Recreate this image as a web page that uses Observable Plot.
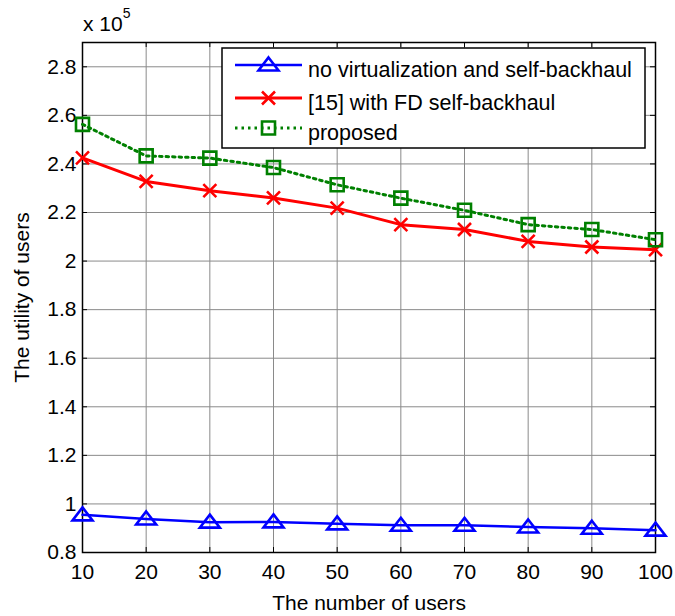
<!DOCTYPE html>
<html>
<head>
<meta charset="utf-8">
<script src="https://cdn.jsdelivr.net/npm/d3@7"></script>
<script src="https://cdn.jsdelivr.net/npm/@observablehq/plot@0.6"></script>
<style>
  html, body { margin: 0; padding: 0; background: white; }
  #chart { position: relative; width: 675px; height: 616px; }
  svg { font-family: "Liberation Sans", Arial, sans-serif; }
</style>
</head>
<body>
<div id="chart"></div>
<script>
// ---- data (values in units of 10^5) ----
const users = [10, 20, 30, 40, 50, 60, 70, 80, 90, 100];
const noVirtualization = [0.955, 0.938, 0.925, 0.926, 0.918, 0.912, 0.912, 0.905, 0.900, 0.892];
const fdSelfBackhaul = [2.425, 2.328, 2.290, 2.260, 2.218, 2.150, 2.130, 2.081, 2.058, 2.047];
const proposed = [2.563, 2.433, 2.424, 2.385, 2.314, 2.259, 2.209, 2.150, 2.130, 2.088];
const seriesNames = ["no virtualization and self-backhaul", "[15] with FD self-backhaul", "proposed"];
const xTicks = [10, 20, 30, 40, 50, 60, 70, 80, 90, 100];
const yTicks = [0.8, 1.0, 1.2, 1.4, 1.6, 1.8, 2.0, 2.2, 2.4, 2.6, 2.8];
const xLabel = "The number of users";
const yLabel = "The utility of users";
const exponentLabel = "5";

// ---- layout ----
const W = 675, H = 616;
const mL = 82, mR = 20, mT = 42, mB = 64;
const xDomain = [10, 100], yDomain = [0.8, 2.9];
const plotW = W - mL - mR, plotH = H - mT - mB;
const tickPx = 5;
const tickYLen = (yDomain[1] - yDomain[0]) * tickPx / plotH;
const tickXLen = (xDomain[1] - xDomain[0]) * tickPx / plotW;
const FS = 21;

// custom marker symbols (fixed pixel size, like MATLAB markers)
const triSym = {draw(ctx) { ctx.moveTo(0, -7.5); ctx.lineTo(10, 5.5); ctx.lineTo(-10, 5.5); ctx.closePath(); }};
const timesSym = {draw(ctx) { const a = 6.5; ctx.moveTo(-a, -a); ctx.lineTo(a, a); ctx.moveTo(-a, a); ctx.lineTo(a, -a); }};
const squareSym = {draw(ctx) { const a = 6.5; ctx.moveTo(-a, -a); ctx.lineTo(a, -a); ctx.lineTo(a, a); ctx.lineTo(-a, a); ctx.closePath(); }};

const series = [
  {name: seriesNames[0], values: noVirtualization, color: "#0000ff", symbol: triSym, dash: null, sw: 2.5},
  {name: seriesNames[1], values: fdSelfBackhaul, color: "#ff0000", symbol: timesSym, dash: null, sw: 3},
  {name: seriesNames[2], values: proposed, color: "#008000", symbol: squareSym, dash: "2.5,4", sw: 3}
];
const rows = series.map(s => users.map((u, i) => ({x: u, y: s.values[i]})));

const marks = [
  Plot.gridX(xTicks, {stroke: "#8a8a8a", strokeOpacity: 1, strokeWidth: 1}),
  Plot.gridY(yTicks, {stroke: "#8a8a8a", strokeOpacity: 1, strokeWidth: 1}),
  Plot.axisX(xTicks, {tickSize: 0, tickPadding: 12, fontSize: FS, label: xLabel, labelAnchor: "center", labelOffset: 57, labelArrow: "none"}),
  Plot.axisY(yTicks, {tickSize: 0, tickPadding: 6, fontSize: FS, tickFormat: d3.format("~g"), label: yLabel, labelAnchor: "center", labelOffset: 68, labelArrow: "none"}),
  // inward ticks on all four sides
  Plot.ruleX(xTicks, {x: d => d, y1: yDomain[0], y2: yDomain[0] + tickYLen, stroke: "black", strokeWidth: 1}),
  Plot.ruleX(xTicks, {x: d => d, y1: yDomain[1], y2: yDomain[1] - tickYLen, stroke: "black", strokeWidth: 1}),
  Plot.ruleY(yTicks, {y: d => d, x1: xDomain[0], x2: xDomain[0] + tickXLen, stroke: "black", strokeWidth: 1}),
  Plot.ruleY(yTicks, {y: d => d, x1: xDomain[1], x2: xDomain[1] - tickXLen, stroke: "black", strokeWidth: 1}),
  Plot.frame({stroke: "black", strokeWidth: 1.5})
];
series.forEach((s, k) => {
  marks.push(Plot.line(rows[k], {x: "x", y: "y", stroke: s.color, strokeWidth: s.sw, strokeDasharray: s.dash}));
  marks.push(Plot.dot(rows[k], {x: "x", y: "y", symbol: () => s.symbol, r: 5, stroke: s.color, strokeWidth: 2.6, fill: "none"}));
});

const chart = Plot.plot({
  width: W, height: H,
  marginLeft: mL, marginRight: mR, marginTop: mT, marginBottom: mB,
  x: {domain: xDomain},
  y: {domain: yDomain},
  style: {fontFamily: "'Liberation Sans', Arial, sans-serif", fontSize: FS + "px", color: "black", background: "white"},
  marks
});
document.getElementById("chart").appendChild(chart);

// ---- exponent label and legend drawn into the same SVG ----
const svg = d3.select(chart);
const ex = svg.append("text").attr("x", mL + 1).attr("y", mT - 11).attr("text-anchor", "start")
  .attr("font-size", FS).attr("fill", "black");
ex.append("tspan").text("x 10");
ex.append("tspan").attr("dy", -13).attr("font-size", 14).text(exponentLabel);

const lg = svg.append("g").attr("text-anchor", "start");
const box = {x: 222, y: 48, w: 423, h: 100};
lg.append("rect").attr("x", box.x).attr("y", box.y).attr("width", box.w).attr("height", box.h)
  .attr("fill", "white").attr("stroke", "black").attr("stroke-width", 1.5);
const rowY = [65, 98, 128];
series.forEach((s, k) => {
  const y = rowY[k];
  lg.append("line").attr("x1", 235).attr("x2", 302).attr("y1", y).attr("y2", y)
    .attr("stroke", s.color).attr("stroke-width", s.sw).attr("stroke-dasharray", s.dash);
  const p = d3.path(); s.symbol.draw(p);
  lg.append("path").attr("d", p.toString()).attr("transform", `translate(268.5,${y})`)
    .attr("fill", "none").attr("stroke", s.color).attr("stroke-width", 2.6);
  lg.append("text").attr("x", 308).attr("y", y + 12).attr("font-size", 21.5).attr("fill", "black").text(s.name);
});
</script>
</body>
</html>
